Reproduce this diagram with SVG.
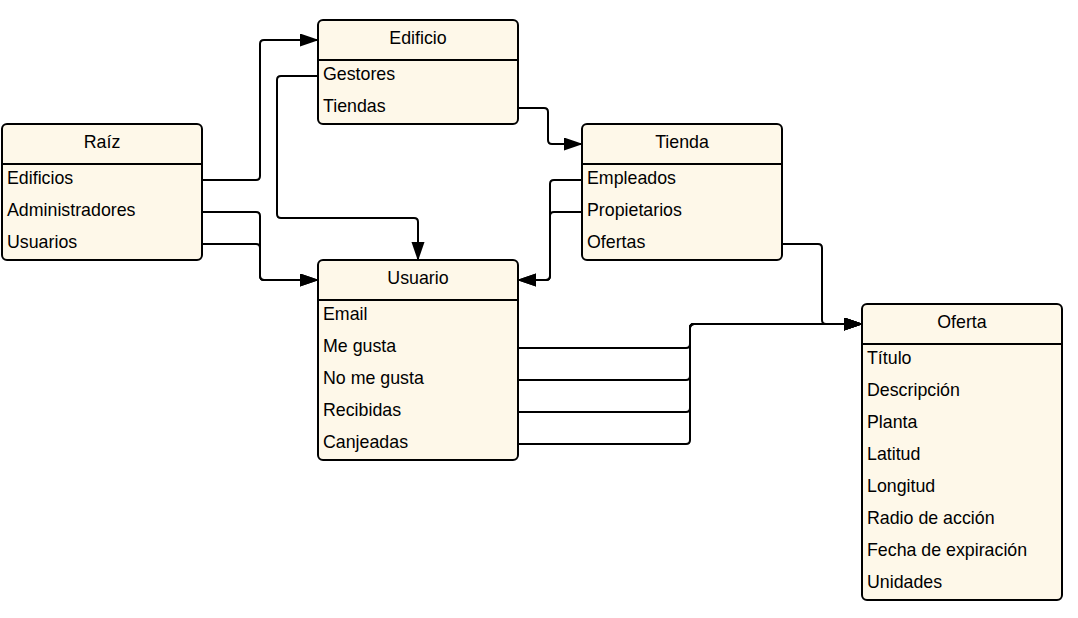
<svg xmlns="http://www.w3.org/2000/svg" width="1078" height="618" viewBox="0 0 1078 618">
<style>
.box{fill:#fef8e9;stroke:#000;stroke-width:2}
.div{stroke:#000;stroke-width:2}
.t{font-family:"Liberation Sans",Arial,sans-serif;font-size:17.8px;fill:#000}
.c{text-anchor:middle}
.con{fill:none;stroke:#000;stroke-width:2}
</style>
<defs>
<marker id="arr" markerUnits="userSpaceOnUse" markerWidth="20" markerHeight="14" refX="18" refY="6.5" orient="auto">
<path d="M0,0 L19,6.5 L0,13 z" fill="#000"/>
</marker>
</defs>
<rect width="1078" height="618" fill="#fff"/>
<g id="connectors">
<path class="con" marker-end="url(#arr)" d="M202,180 H256 Q260,180 260,176 V44 Q260,40 264,40 H318"/>
<path class="con" marker-end="url(#arr)" d="M202,212 H256 Q260,212 260,216 V276 Q260,280 264,280 H318"/>
<path class="con" marker-end="url(#arr)" d="M202,244 H256 Q260,244 260,248 V276 Q260,280 264,280 H318"/>
<path class="con" marker-end="url(#arr)" d="M318,76 H281 Q277,76 277,80 V214 Q277,218 281,218 H414 Q418,218 418,222 V260"/>
<path class="con" marker-end="url(#arr)" d="M518,108 H544 Q548,108 548,112 V140 Q548,144 552,144 H582"/>
<path class="con" marker-end="url(#arr)" d="M582,180 H554 Q550,180 550,184 V276 Q550,280 546,280 H518"/>
<path class="con" marker-end="url(#arr)" d="M582,212 H554 Q550,212 550,216 V276 Q550,280 546,280 H518"/>
<path class="con" marker-end="url(#arr)" d="M782,244 H818 Q822,244 822,248 V320 Q822,324 826,324 H862"/>
<path class="con" marker-end="url(#arr)" d="M518,348 H686 Q690,348 690,344 V328 Q690,324 694,324 H862"/>
<path class="con" marker-end="url(#arr)" d="M518,380 H686 Q690,380 690,376 V328 Q690,324 694,324 H862"/>
<path class="con" marker-end="url(#arr)" d="M518,412 H686 Q690,412 690,408 V328 Q690,324 694,324 H862"/>
<path class="con" marker-end="url(#arr)" d="M518,444 H686 Q690,444 690,440 V328 Q690,324 694,324 H862"/>
</g>
<g id="raiz">
<rect class="box" x="2" y="124" width="200" height="136" rx="5"/>
<line class="div" x1="2" y1="164" x2="202" y2="164"/>
<text class="t c" x="102" y="148">Raíz</text>
<text class="t" x="7" y="184">Edificios</text>
<text class="t" x="7" y="216">Administradores</text>
<text class="t" x="7" y="248">Usuarios</text>
</g>
<g id="edificio">
<rect class="box" x="318" y="20" width="200" height="104" rx="5"/>
<line class="div" x1="318" y1="60" x2="518" y2="60"/>
<text class="t c" x="418" y="44">Edificio</text>
<text class="t" x="323" y="80">Gestores</text>
<text class="t" x="323" y="112">Tiendas</text>
</g>
<g id="tienda">
<rect class="box" x="582" y="124" width="200" height="136" rx="5"/>
<line class="div" x1="582" y1="164" x2="782" y2="164"/>
<text class="t c" x="682" y="148">Tienda</text>
<text class="t" x="587" y="184">Empleados</text>
<text class="t" x="587" y="216">Propietarios</text>
<text class="t" x="587" y="248">Ofertas</text>
</g>
<g id="usuario">
<rect class="box" x="318" y="260" width="200" height="200" rx="5"/>
<line class="div" x1="318" y1="300" x2="518" y2="300"/>
<text class="t c" x="418" y="284">Usuario</text>
<text class="t" x="323" y="320">Email</text>
<text class="t" x="323" y="352">Me gusta</text>
<text class="t" x="323" y="384">No me gusta</text>
<text class="t" x="323" y="416">Recibidas</text>
<text class="t" x="323" y="448">Canjeadas</text>
</g>
<g id="oferta">
<rect class="box" x="862" y="304" width="200" height="296" rx="5"/>
<line class="div" x1="862" y1="344" x2="1062" y2="344"/>
<text class="t c" x="962" y="328">Oferta</text>
<text class="t" x="867" y="364">Título</text>
<text class="t" x="867" y="396">Descripción</text>
<text class="t" x="867" y="428">Planta</text>
<text class="t" x="867" y="460">Latitud</text>
<text class="t" x="867" y="492">Longitud</text>
<text class="t" x="867" y="524">Radio de acción</text>
<text class="t" x="867" y="556">Fecha de expiración</text>
<text class="t" x="867" y="588">Unidades</text>
</g>
</svg>
